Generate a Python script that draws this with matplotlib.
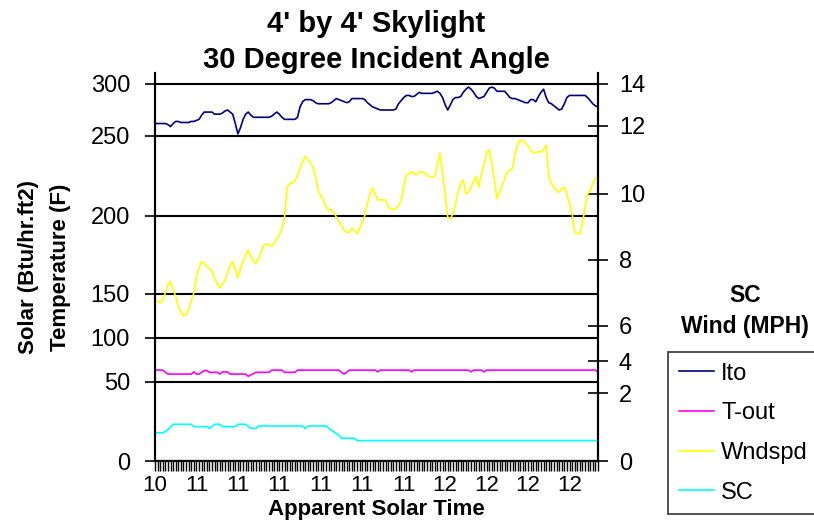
import numpy as np
import matplotlib
matplotlib.use('Agg')
import matplotlib.pyplot as plt

plt.rcParams['font.family'] = ['Liberation Sans', 'DejaVu Sans']

# dados (um ponto por leitura)
ito = [262, 262, 262, 262, 262, 261, 259, 262,
       264, 264, 263, 263, 263, 263, 264, 264,
       265, 266, 270, 273, 273, 273, 273, 271, 271, 271, 272,
       274, 275, 273, 271, 262, 252, 258, 266, 271, 273,
       270, 268, 268, 268, 268, 268, 268, 268, 269,
       271, 273, 271, 268, 266, 266, 266, 266, 266, 268,
       278, 283, 285, 285, 285, 284, 282, 281, 281, 281, 281, 281, 282,
       284, 286, 285, 284, 283, 282, 283, 286, 286, 286, 286, 286, 285,
       282, 280, 278, 277, 276, 275, 275, 275, 275, 275, 275, 276,
       281, 284, 287, 289, 289, 288, 288, 290, 292,
       291, 291, 291, 291, 291, 292,
       293, 291, 287, 280, 275, 280, 285, 287, 287, 288,
       292, 295, 297, 295, 292, 288, 286, 287, 288, 292, 296, 297, 296,
       293, 293, 293, 293, 290, 287, 286, 286, 285, 284, 283, 282,
       282, 285, 285, 283, 288, 292, 295, 287, 282, 281,
       279, 277, 275, 276, 281, 287, 289, 289, 289, 289, 289, 289, 289,
       287, 284, 281, 279, 278]

t_out = ([63.5] * 4 + [61] + [59] * 10 + [61.5] + [59] * 2 + [61] + [63] * 2
         + [61] * 4 + [59] + [61.5] * 3 + [59] * 7 + [56.5, 58, 59.5] + [61] * 6
         + [63.5] * 5 + [61] * 5 + [63.5] * 17 + [61, 59, 61] + [63.5] * 11
         + [61.5] + [63.5] * 12 + [61.5] + [63.5] * 22 + [61.5] + [63.5] * 4
         + [61.5] + [63.5] * 43 + [61.5])

wndspd = [6.8, 6.75, 6.7, 6.8, 7.0, 7.25, 7.35, 7.1, 6.9, 6.6, 6.45, 6.3,
          6.35, 6.5, 6.75, 7.0, 7.5, 7.75, 7.95, 7.9, 7.8, 7.75, 7.65, 7.45,
          7.3, 7.15, 7.25, 7.4, 7.6, 7.85, 7.95, 7.7, 7.45, 7.75, 7.95, 8.15,
          8.3, 8.1, 7.95, 7.9, 8.05, 8.25, 8.45, 8.48, 8.48, 8.42, 8.5, 8.65,
          8.76, 8.95, 9.3, 10.2, 10.3, 10.32, 10.38, 10.55, 10.75, 10.95, 11.1, 11.0,
          10.9, 10.8, 10.5, 10.1, 9.95, 9.8, 9.6, 9.52, 9.52, 9.45, 9.3, 9.15,
          9.05, 8.9, 8.83, 8.85, 8.96, 8.9, 8.8, 8.95, 9.15, 9.35, 9.7, 10.0,
          10.17, 10.0, 9.82, 9.82, 9.82, 9.82, 9.6, 9.55, 9.52, 9.55, 9.65, 9.8,
          10.2, 10.55, 10.6, 10.65, 10.6, 10.56, 10.65, 10.65, 10.62, 10.55, 10.5, 10.5,
          10.52, 10.85, 11.2, 10.6, 10.0, 9.3, 9.25, 9.4, 9.7, 10.05, 10.3, 10.41,
          10.0, 10.05, 10.2, 10.4, 10.5, 10.2, 10.6, 10.85, 11.2, 11.3, 10.9, 10.4,
          9.85, 10.05, 10.25, 10.45, 10.65, 10.7, 10.75, 11.2, 11.45, 11.58, 11.55, 11.5,
          11.4, 11.3, 11.2, 11.22, 11.24, 11.22, 11.3, 11.43, 10.5, 10.3, 10.2, 10.1,
          10.05, 10.15, 10.2, 10.0, 9.7, 9.4, 8.85, 8.8, 8.8, 9.1, 9.6, 10.0,
          10.1, 10.3, 10.45, 10.55]

sc = ([0.83] * 4 + [0.87, 0.92, 1.0] + [1.08] * 8 + [1.01] * 6 + [0.96, 1.01]
      + [1.08] * 3 + [1.01] * 6 + [1.08] * 4 + [1.02] + [0.96] * 3 + [1.03] * 18
      + [0.96] + [1.03] * 8 + [0.97, 0.91, 0.86, 0.8, 0.76] + [0.67] * 6 + [0.60] * 94)

x_labels = ['10', '11', '11', '11', '11', '11', '11', '12', '12', '12', '12']
label_step = 16

left_ticks = [0, 50, 100, 150, 200, 250, 300]
right_ticks = [0, 2, 4, 6, 8, 10, 12, 14]

# os eixos do original nao sao lineares: escala por partes
left_vals = [0, 50, 100, 150, 200, 250, 300, 310.6]
left_pix = [461, 382, 338, 294, 216, 136, 84, 73]
right_vals = [0, 2, 4, 6, 8, 10, 12, 14, 14.54]
right_pix = [461, 393, 361, 326, 260, 194, 125.7, 84, 73]


def escala(vals, pix):
    frac = (461 - np.array(pix, dtype=float)) / (461 - 73)
    vals = np.array(vals, dtype=float)
    fwd = lambda v: np.interp(v, vals, frac)
    inv = lambda f: np.interp(f, frac, vals)
    return fwd, inv


fig = plt.figure(figsize=(8.14, 5.25), dpi=100)
ax = fig.add_axes([155 / 814, 64 / 525, 443 / 814, 388 / 525])
ax2 = ax.twinx()

n = len(ito)
l1, = ax.plot(range(n), ito, color='#000080', lw=1.2, label='Ito')
l2, = ax.plot(range(len(t_out)), t_out, color='#ff00ff', lw=1.2, label='T-out')
l3, = ax2.plot(range(len(wndspd)), wndspd, color='#ffff00', lw=1.2, label='Wndspd')
l4, = ax2.plot(range(len(sc)), sc, color='#00ffff', lw=1.2, label='SC')

ax.set_yscale('function', functions=escala(left_vals, left_pix))
ax2.set_yscale('function', functions=escala(right_vals, right_pix))
ax.set_ylim(0, left_vals[-1])
ax2.set_ylim(0, right_vals[-1])
ax.set_xlim(0, n - 1)

ax.set_yticks(left_ticks)
ax.set_yticklabels([str(t) for t in left_ticks])
ax.yaxis.set_minor_locator(matplotlib.ticker.NullLocator())
ax2.set_yticks(right_ticks)
ax2.set_yticklabels([str(t) for t in right_ticks])
ax2.yaxis.set_minor_locator(matplotlib.ticker.NullLocator())
ax.yaxis.grid(True, color='black', lw=1.5)
ax.set_axisbelow(True)

ax.set_xticks(range(0, label_step * len(x_labels), label_step))
ax.set_xticklabels(x_labels)
ax.set_xticks(range(n), minor=True)

ax.tick_params(axis='y', direction='inout', length=14, width=1.2, labelsize=17, pad=11)
ax2.tick_params(axis='y', direction='inout', length=14, width=1.2, labelsize=17, pad=8)
ax.tick_params(axis='x', which='both', direction='out', length=7, width=1, labelsize=16, pad=3)

for a in (ax, ax2):
    a.spines['top'].set_visible(False)
    for s in ('left', 'right', 'bottom'):
        a.spines[s].set_linewidth(1.5)
        a.spines[s].set_color('black')

ax.set_xlabel('Apparent Solar Time', fontsize=16, fontweight='bold', labelpad=2)
ax.set_ylabel('Solar (Btu/hr.ft2)\nTemperature (F)', fontsize=16, fontweight='bold',
              labelpad=14, linespacing=1.7)

fig.text(376 / 814, 1 - 10 / 525, "4' by 4' Skylight\n30 Degree Incident Angle",
         ha='center', va='top', fontsize=21, fontweight='bold', linespacing=1.35)
fig.text(745 / 814, 1 - 311 / 525, 'SC\nWind (MPH)', ha='center', va='center',
         fontsize=16.5, fontweight='bold', linespacing=1.4)

leg = fig.legend(handles=[l1, l2, l3, l4], loc='upper left',
                 bbox_to_anchor=(668 / 814, 1 - 352 / 525), fontsize=17,
                 frameon=True, fancybox=False, handlelength=1.5, handletextpad=0.3,
                 labelspacing=0.75, borderaxespad=0, borderpad=0.45)
leg.get_frame().set_edgecolor('black')
leg.get_frame().set_linewidth(1.2)

plt.savefig('out.png', dpi=100)
